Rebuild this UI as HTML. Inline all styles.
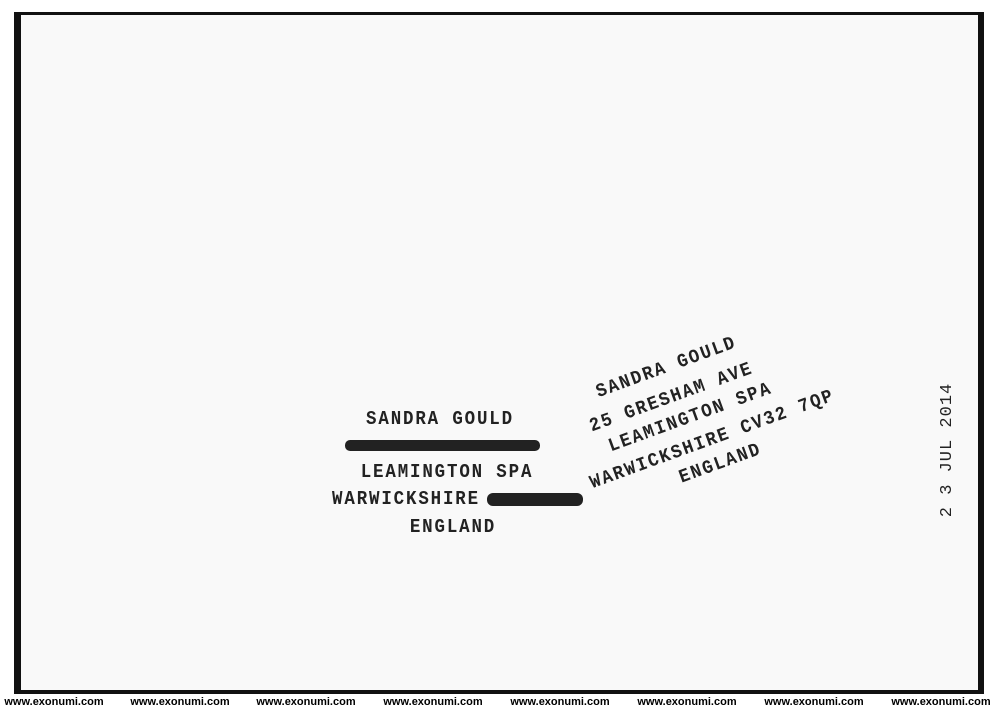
<!DOCTYPE html>
<html><head><meta charset="utf-8"><style>
html,body{margin:0;padding:0;background:#fff;width:1000px;height:706px;overflow:hidden}
</style></head><body>
<svg width="1000" height="706" viewBox="0 0 1000 706" xmlns="http://www.w3.org/2000/svg">
<rect x="0" y="0" width="1000" height="706" fill="#fff"/>
<rect x="14" y="12" width="970" height="682" fill="#111"/>
<rect x="21" y="15" width="957" height="675" fill="#f9f9f9"/>
<g font-family="Liberation Mono, monospace" font-weight="bold" font-size="19" fill="#222" text-anchor="middle" letter-spacing="2">
<text transform="translate(440,424) scale(0.92,1)" x="0" y="0">SANDRA GOULD</text>
<rect x="345" y="440" width="195" height="11" rx="5" fill="#222"/>
<text transform="translate(447,477) scale(0.92,1)" x="0" y="0">LEAMINGTON SPA</text>
<text transform="translate(406,504) scale(0.92,1)" x="0" y="0">WARWICKSHIRE</text>
<rect x="487" y="493" width="96" height="13" rx="6" fill="#222"/>
<text transform="translate(453,532) scale(0.92,1)" x="0" y="0">ENGLAND</text>
<text transform="translate(668,372) rotate(-20) scale(0.92,1)" x="0" y="0">SANDRA GOULD</text>
<text transform="translate(673,402) rotate(-20) scale(0.92,1)" x="0" y="0">25 GRESHAM AVE</text>
<text transform="translate(692,422) rotate(-20) scale(0.92,1)" x="0" y="0">LEAMINGTON SPA</text>
<text transform="translate(714,444) rotate(-20) scale(0.92,1)" x="0" y="0">WARWICKSHIRE CV32 7QP</text>
<text transform="translate(722,468) rotate(-20) scale(0.92,1)" x="0" y="0">ENGLAND</text>
<text transform="translate(951,450) rotate(-90)" x="0" y="0" font-weight="normal" font-size="17" letter-spacing="1">2 3 JUL 2014</text>
</g>
<g font-family="Liberation Sans, sans-serif" font-weight="bold" font-size="11" fill="#000" text-anchor="middle">
<text x="54" y="705">www.exonumi.com</text>
<text x="180" y="705">www.exonumi.com</text>
<text x="306" y="705">www.exonumi.com</text>
<text x="433" y="705">www.exonumi.com</text>
<text x="560" y="705">www.exonumi.com</text>
<text x="687" y="705">www.exonumi.com</text>
<text x="814" y="705">www.exonumi.com</text>
<text x="941" y="705">www.exonumi.com</text>
</g>
</svg>
</body></html>
